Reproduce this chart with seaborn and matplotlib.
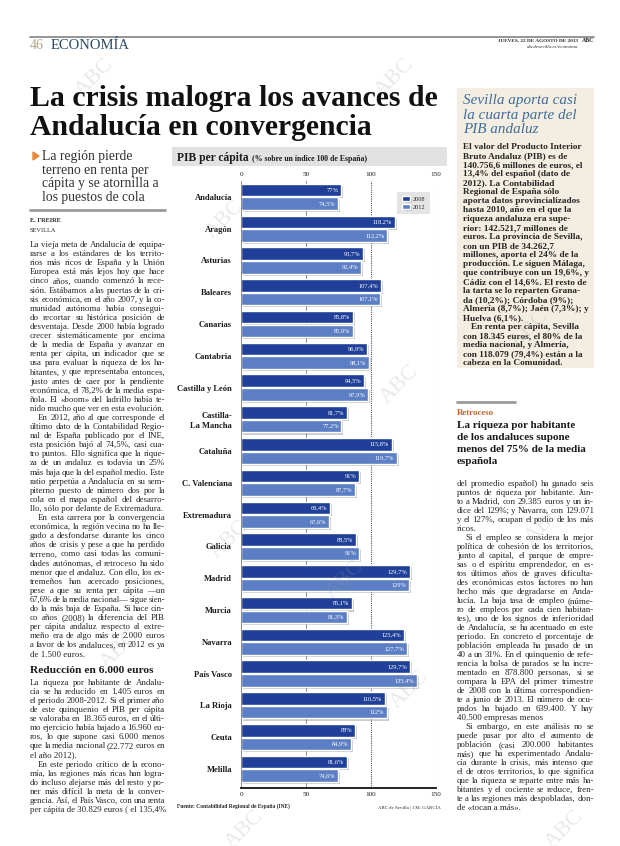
import seaborn as sns
import matplotlib.pyplot as plt
import matplotlib.patheffects as pe
import numpy as np
import pandas as pd
from matplotlib.patches import Rectangle, Polygon
from matplotlib.lines import Line2D
from matplotlib.font_manager import FontProperties

# chart data
regions = ['Andalucía', 'Aragón', 'Asturias', 'Baleares', 'Canarias', 'Cantabria',
           'Castilla y León', 'Castilla-\nLa Mancha', 'Cataluña', 'C. Valenciana',
           'Extremadura', 'Galicia', 'Madrid', 'Murcia', 'Navarra', 'País Vasco',
           'La Rioja', 'Ceuta', 'Melilla']
pib_2008 = [77, 118.2, 93.7, 107.4, 85.8, 96.9, 94.5, 81.7, 115.8, 91,
            68.4, 88.5, 129.7, 85.1, 125.4, 129.7, 110.5, 88, 81.6]
pib_2012 = [74.5, 112.2, 92.4, 107.1, 85.9, 98.1, 97.9, 77.2, 119.7, 87.7,
            67.6, 91, 129, 81.3, 127.7, 135.4, 112, 84.9, 74.6]
years = ['2008', '2012']
x_ticks = [0, 50, 100, 150]

# page texts
headline = ['La crisis malogra los avances de', 'Andalucía en convergencia']
subhead = ['La región pierde', 'terreno en renta per', 'cápita y se atornilla a', 'los puestos de cola']
side_title = ['Sevilla aporta casi', 'la cuarta parte del', 'PIB andaluz']
side_body = [
    ['El valor del Producto Interior', 'Bruto Andaluz (PIB) es de', '140.756,6 millones de euros, el',
     '13,4% del español (dato de', '2012). La Contabilidad', 'Regional de España sólo',
     'aporta datos provincializados', 'hasta 2010, año en el que la', 'riqueza andaluza era supe-',
     'rior: 142.521,7 millones de', 'euros. La provincia de Sevilla,', 'con un PIB de 34.262,7',
     'millones, aporta el 24% de la', 'producción. Le siguen Málaga,', 'que contribuye con un 19,6%, y',
     'Cádiz con el 14,6%. El resto de', 'la tarta se lo reparten Grana-', 'da (10,2%); Córdoba (9%);',
     'Almería (8,7%); Jaén (7,3%); y', 'Huelva (6,1%).'],
    ['En renta per cápita, Sevilla', 'con 18.345 euros, el 80% de la', 'media nacional, y Almería,',
     'con 118.079 (79,4%) están a la', 'cabeza en la Comunidad.'],
]
left_body = [
    ['La vieja meta de Andalucía de equipa-', 'rarse a los estándares de los territo-',
     'rios más ricos de España y la Unión', 'Europea está más lejos hoy que hace',
     'cinco años, cuando comenzó la rece-', 'sión. Estábamos a las puertas de la cri-',
     'sis económica, en el año 2007, y la co-', 'munidad autónoma había consegui-',
     'do recortar su histórica posición de', 'desventaja. Desde 2000 había logrado',
     'crecer sistemáticamente por encima', 'de la media de España y avanzar en',
     'renta per cápita, un indicador que se', 'usa para evaluar la riqueza de los ha-',
     'bitantes, y que representaba entonces,', 'justo antes de caer por la pendiente',
     'económica, el 78,2% de la media espa-', 'ñola. El «boom» del ladrillo había te-',
     'nido mucho que ver en esta evolución.'],
    ['En 2012, año al que corresponde el', 'último dato de la Contabilidad Regio-',
     'nal de España publicado por el INE,', 'esta posición bajó al 74,5%, casi cua-',
     'tro puntos. Ello significa que la rique-', 'za de un andaluz es todavía un 25%',
     'más baja que la del español medio. Este', 'ratio perpetúa a Andalucía en su sem-',
     'piterno puesto de número dos por la', 'cola en el mapa español del desarro-',
     'llo, sólo por delante de Extremadura.'],
    ['En esta carrera por la convergencia', 'económica, la región vecina no ha lle-',
     'gado a desfondarse durante los cinco', 'años de crisis y pese a que ha perdido',
     'terreno, como casi todas las comuni-', 'dades autónomas, el retroceso ha sido',
     'menor que el andaluz. Con ello, los ex-', 'tremeños han acercado posiciones,',
     'pese a que su renta per cápita —un', '67,6% de la media nacional— sigue sien-',
     'do la más baja de España. Si hace cin-', 'co años (2008) la diferencia del PIB',
     'per cápita andaluz respecto al extre-', 'meño era de algo más de 2.000 euros',
     'a favor de los andaluces, en 2012 es ya', 'de 1.500 euros.'],
]
left_body_2 = [
    ['La riqueza por habitante de Andalu-', 'cía se ha reducido en 1.405 euros en',
     'el periodo 2008-2012. Si el primer año', 'de este quinquenio el PIB per cápita',
     'se valoraba en 18.365 euros, en el últi-', 'mo ejercicio había bajado a 16.960 eu-',
     'ros, lo que supone casi 6.000 menos', 'que la media nacional (22.772 euros en',
     'el año 2012).'],
    ['En este periodo crítico de la econo-', 'mía, las regiones más ricas han logra-',
     'do incluso alejarse más del resto y po-', 'ner más difícil la meta de la conver-',
     'gencia. Así, el País Vasco, con una renta', 'per cápita de 30.829 euros ( el 135,4%'],
]
retro_head = ['La riqueza por habitante', 'de los andaluces supone', 'menos del 75% de la media', 'española']
right_body = [
    ['del promedio español) ha ganado seis', 'puntos de riqueza por habitante. Jun-',
     'to a Madrid, con 29.385 euros y un ín-', 'dice del 129%; y Navarra, con 129.071',
     'y el 127%, ocupan el podio de los más', 'ricos.'],
    ['Si el empleo se considera la mejor', 'política de cohesión de los territorios,',
     'junto al capital, el parque de empre-', 'sas o el espíritu emprendedor, en es-',
     'tos últimos años de graves dificulta-', 'des económicas estos factores no han',
     'hecho más que degradarse en Anda-', 'lucía. La baja tasa de empleo (núme-',
     'ro de empleos por cada cien habitan-', 'tes), uno de los signos de inferioridad',
     'de Andalucía, se ha acentuado en este', 'periodo. En concreto el porcentaje de',
     'población empleada ha pasado de un', '40 a un 31%. En el quinquenio de refe-',
     'rencia la bolsa de parados se ha incre-', 'mentado en 878.800 personas, si se',
     'compara la EPA del primer trimestre', 'de 2008 con la última correspondien-',
     'te a junio de 2013. El número de ocu-', 'pados ha bajado en 639.400. Y hay',
     '40.500 empresas menos'],
    ['Si embargo, en este análisis no se', 'puede pasar por alto el aumento de',
     'población (casi 200.000 habitantes', 'más) que ha experimentado Andalu-',
     'cía durante la crisis, más intenso que', 'el de otros territorios, lo que significa',
     'que la riqueza se reparte entre más ha-', 'bitantes y el cociente se reduce, fren-',
     'te a las regiones más despobladas, don-', 'de «tocan a más».'],
]

SERIF = 'Liberation Serif'
DARK = '#1f3f98'
LIGHT = '#5b7ec4'
INK = '#262626'

sns.set_style('white')
plt.rcParams['font.family'] = [SERIF, 'DejaVu Serif']

W, H = 620, 846
fig = plt.figure(figsize=(W / 100, H / 100), dpi=100)
fig.patch.set_facecolor('white')
renderer = fig.canvas.get_renderer()


def fx(x):
    return x / W


def fy(y):
    return 1 - y / H


def txt(x, y, s, size, **kw):
    kw.setdefault('va', 'baseline')
    kw.setdefault('color', INK)
    return fig.text(fx(x), fy(y), s, fontsize=size, family=[SERIF, 'DejaVu Serif'], **kw)


def width_of(s, size, weight='normal'):
    fp = FontProperties(family=SERIF, size=size, weight=weight)
    return renderer.get_text_width_height_descent(s, fp, ismath=False)[0]


def space_of(size, weight='normal'):
    return width_of('a a', size, weight) - 2 * width_of('a', size, weight)


def set_line(x, y, w, line, size, weight='normal', justify=True, color=INK):
    words = line.split(' ')
    if not justify or len(words) < 2:
        nat = width_of(line, size, weight)
        if nat > w:
            size = size * w / nat
        txt(x, y, line, size, weight=weight, color=color)
        return
    ws = [width_of(t, size, weight) for t in words]
    min_gap = 0.45 * space_of(size, weight)
    gap = (w - sum(ws)) / (len(words) - 1)
    if gap < min_gap:
        # too long for the measure: shrink this line a little
        size = size * (w - min_gap * (len(words) - 1)) / sum(ws)
        ws = [width_of(t, size, weight) for t in words]
        gap = (w - sum(ws)) / (len(words) - 1)
    cx = x
    for t, tw in zip(words, ws):
        txt(cx, y, t, size, weight=weight, color=color)
        cx += tw + gap


def fit_size(paragraphs, w, weight='normal', indent=8, base=6.0, q=70):
    ratios = []
    for pi, para in enumerate(paragraphs):
        for li, line in enumerate(para[:-1]):
            ind = indent if li == 0 and pi > 0 else 0
            ratios.append(width_of(line, base, weight) / (w - ind))
    return base / np.percentile(ratios, q)


def column(x, y, w, paragraphs, size, step, weight='normal', indent=8, justify=True):
    for pi, para in enumerate(paragraphs):
        for li, line in enumerate(para):
            ind = indent if li == 0 and pi > 0 else 0
            set_line(x + ind, y, w - ind, line, size, weight,
                     justify=justify and li < len(para) - 1)
            y += step
    return y


def hline(x0, x1, y, color='#999999', lw=1.0):
    fig.add_artist(Line2D([fx(x0), fx(x1)], [fy(y), fy(y)], transform=fig.transFigure,
                          color=color, lw=lw))


# header
hline(30, 594, 37, '#8c8c8c', 1.3)
txt(30, 49, '46', 10, color='#b3a688')
txt(51, 49, 'ECONOMÍA', 10.5, color='#2d4a63')
txt(578, 42, 'JUEVES, 22 DE AGOSTO DE 2013', 3.8, ha='right', weight='bold')
txt(582, 42, 'ABC', 4.2, weight='bold')
txt(578, 48, 'abcdesevilla.es/economia', 3.6, ha='right', style='italic')

# headline
txt(30, 106, headline[0], 21.4, weight='bold', color='#111111')
txt(30, 135, headline[1], 21.4, weight='bold', color='#111111')

# left column
fig.add_artist(Polygon([[fx(33), fy(152)], [fx(39), fy(156)], [fx(33), fy(160)]],
                       closed=True, transform=fig.transFigure, color='#e58a3a'))
for i, s in enumerate(subhead):
    txt(42, 160 + i * 13.5, s, 9.8, color='#333333')
hline(30, 165, 210, '#9a9a9a', 2.0)
txt(30, 222, 'E. FREIRE', 4.6, weight='bold')
txt(30, 232, 'SEVILLA', 4.6)
body_size = fit_size(left_body + left_body_2 + right_body, 136, q=60)
y = column(30, 247, 135, left_body, body_size, 9.1)
txt(30, y + 7, 'Reducción en 6.000 euros', 8.2, weight='bold', color='#1a1a1a')
column(30, y + 19, 135, left_body_2, body_size, 9.1)

# sidebar (ragged right)
fig.add_artist(Rectangle((fx(457), fy(368)), (594 - 457) / W, (368 - 88) / H,
                         transform=fig.transFigure, facecolor='#f4eee2', edgecolor='none'))
for i, s in enumerate(side_title):
    txt(463, 104 + i * 14.5, s, 10.9, style='italic', color='#3d6d9c')
side_size = fit_size(side_body, 126, weight='bold', q=97)
column(463, 149, 126, side_body, side_size, 9.0, weight='bold', justify=False)

# right column
hline(457, 515, 402, '#9a9a9a', 2.0)
txt(457, 415, 'Retroceso', 6.4, weight='bold', color='#c2642a')
for i, s in enumerate(retro_head):
    txt(457, 428 + i * 12, s, 8, weight='bold', color='#1a1a1a')
column(457, 486, 137, right_body, body_size, 9.0)

# chart title band
fig.add_artist(Rectangle((fx(172), fy(166)), (447 - 172) / W, 19 / H,
                         transform=fig.transFigure, facecolor='#e2e2e2', edgecolor='none'))
txt(177, 161, 'PIB per cápita', 8.3, weight='bold', color='#1a1a1a')
tw = width_of('PIB per cápita', 8.3, 'bold')
txt(177 + tw + 3, 161, '(% sobre un índice 100 de España)', 5.6, weight='bold', color='#1a1a1a')

# chart
df = pd.DataFrame({'region': regions * 2,
                   'valor': pib_2008 + pib_2012,
                   'año': [years[0]] * len(regions) + [years[1]] * len(regions)})
ax = fig.add_axes([fx(241), fy(788), 195 / W, (788 - 181) / H])
sns.barplot(data=df, y='region', x='valor', hue='año', palette=[DARK, LIGHT], orient='h',
            width=0.86, gap=0.08, saturation=1, ax=ax)
ax.set_xlim(0, 150)
ax.set_ylim(18.6, -0.5)
ax.set_xticks(x_ticks)
ax.set_xlabel('')
ax.set_ylabel('')
ax.axvline(50, color='#8a8a8a', lw=0.7, zorder=0)
ax.axvline(100, color='#555555', lw=0.8, ls=(0, (1, 1)), zorder=0)
ax.axvline(150, color='#cccccc', lw=0.8, zorder=0)
for side in ['top', 'right']:
    ax.spines[side].set_visible(False)
ax.spines['left'].set_color('#777777')
ax.spines['left'].set_linewidth(0.6)
ax.spines['bottom'].set_color('#111111')
ax.spines['bottom'].set_linewidth(1.3)
ax.tick_params(axis='x', length=0, labelsize=5.2, labeltop=True, labelbottom=True, pad=3,
               labelcolor='#222222')
ax.tick_params(axis='y', length=0, labelsize=6.1, pad=6.5, labelcolor='#1a1a1a')
for t in ax.get_yticklabels():
    t.set_fontweight('bold')

for bar in ax.patches:
    bar.set_path_effects([pe.SimplePatchShadow(offset=(1.5, -1.5), shadow_rgbFace='#8f8f8f', alpha=0.45),
                          pe.Normal()])
for cont in ax.containers:
    for bar in cont:
        v = bar.get_width()
        ax.text(v - 2, bar.get_y() + bar.get_height() / 2, f'{v:g}'.replace('.', ',') + '%',
                ha='right', va='center', color='white', fontsize=4.6)

handles, labels = ax.get_legend_handles_labels()
leg = ax.legend(handles, labels, loc='upper right', bbox_to_anchor=((433 - 241) / 195, 1 - 8 / 607),
                fontsize=4.4, frameon=True, facecolor='#e4e4e4', edgecolor='none', fancybox=False,
                framealpha=1, handlelength=1.3, handleheight=0.9, borderpad=0.7, labelspacing=0.35,
                handletextpad=0.6)

txt(177, 808, 'Fuente: Contabilidad Regional de España (INE)', 4.0, weight='bold')
txt(441, 809, 'ABC de Sevilla | J.M. GARCÍA', 3.5, ha='right')

# faint watermarks
for (wx, wy) in [(95, 78), (395, 78), (225, 220), (400, 385), (530, 330), (230, 540),
                 (345, 580), (545, 525), (410, 690), (120, 650), (245, 830), (565, 830)]:
    txt(wx, wy, 'ABC', 16, rotation=45, ha='center', va='center', color='#9a9a9a', alpha=0.22)

fig.savefig('out.png', dpi=100)
